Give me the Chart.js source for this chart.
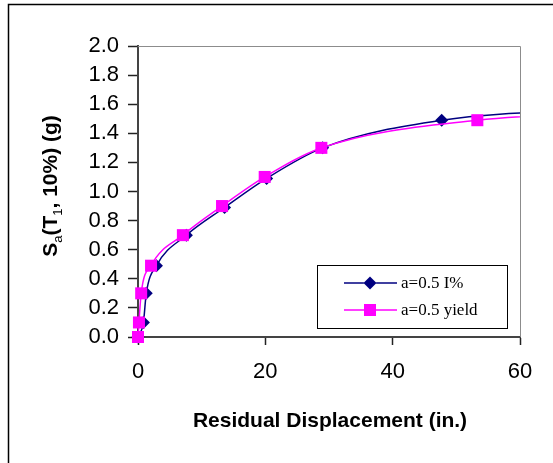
<!DOCTYPE html>
<html>
<head>
<meta charset="utf-8">
<script src="https://cdn.jsdelivr.net/npm/chart.js@4.4.1/dist/chart.umd.min.js"></script>
<style>
    html, body { margin: 0; padding: 0; background: #fff; }
    #wrap { width: 553px; height: 463px; position: relative; }
</style>
</head>
<body>
<div id="wrap"><canvas id="chart" width="553" height="463"></canvas></div>
<script>
// ── data ────────────────────────────────────────────────────
// a=0.5 I%  (navy diamonds); last point lies past the axis end
const iPctX = [0, 0.85, 1.3, 2.9, 7.6, 13.6, 20.2, 29.0, 47.7, 75];
const iPctY = [0, 0.10, 0.30, 0.49, 0.70, 0.89, 1.09, 1.30, 1.49, 1.57];
// a=0.5 yield  (magenta squares)
const yieldX = [0, 0.15, 0.5, 2.05, 7.05, 13.2, 19.9, 28.8, 53.3, 75];
const yieldY = [0, 0.10, 0.30, 0.49, 0.70, 0.90, 1.10, 1.30, 1.49, 1.545];

const seriesLabels = ['a=0.5 I%', 'a=0.5 yield'];
const xTicks = [0, 20, 40, 60];
const yTicks = [0, 0.2, 0.4, 0.6, 0.8, 1.0, 1.2, 1.4, 1.6, 1.8, 2.0];

function pairs(xs, ys) {
    return xs.map(function (x, i) { return { x: x, y: ys[i] }; });
}

// ── custom drawing: frame, plot border, axis titles, legend ─
const decorPlugin = {
    id: 'decor',
    beforeDatasetsDraw: function (chart) {
        const ctx = chart.ctx, a = chart.chartArea;
        ctx.save();
        ctx.strokeStyle = '#8c8c8c';
        ctx.lineWidth = 1;
        ctx.beginPath();
        ctx.moveTo(a.left, a.top + 0.5);
        ctx.lineTo(a.right + 0.5, a.top + 0.5);
        ctx.lineTo(a.right + 0.5, a.bottom);
        ctx.stroke();
        ctx.restore();
    },
    afterDraw: function (chart) {
        const ctx = chart.ctx;
        ctx.save();

        // outer frame (only top/left edges fall inside the picture)
        ctx.strokeStyle = '#000';
        ctx.lineWidth = 1.5;
        ctx.strokeRect(8.5, 4.5, 700, 700);

        // x title
        ctx.fillStyle = '#000';
        ctx.font = "bold 21px 'Liberation Sans', Arial, sans-serif";
        ctx.textAlign = 'center';
        ctx.textBaseline = 'middle';
        ctx.fillText('Residual Displacement (in.)', 330, 421);

        // y title with subscripts
        const parts = [
            { t: 'S', sub: false }, { t: 'a', sub: true },
            { t: '(T', sub: false }, { t: '1', sub: true },
            { t: ', 10%) (g)', sub: false }
        ];
        const bigFont = "bold 21px 'Liberation Sans', Arial, sans-serif";
        const subFont = "13px 'Liberation Sans', Arial, sans-serif";
        let total = 0;
        parts.forEach(function (p) {
            ctx.font = p.sub ? subFont : bigFont;
            p.w = ctx.measureText(p.t).width;
            total += p.w;
        });
        ctx.translate(50, 186);
        ctx.rotate(-Math.PI / 2);
        ctx.textAlign = 'left';
        ctx.textBaseline = 'alphabetic';
        let cx = -total / 2;
        parts.forEach(function (p) {
            ctx.font = p.sub ? subFont : bigFont;
            ctx.fillText(p.t, cx, p.sub ? 12 : 7);
            cx += p.w;
        });
        ctx.restore();

        // legend box
        ctx.save();
        ctx.fillStyle = '#fff';
        ctx.fillRect(317, 265, 190, 63);
        ctx.strokeStyle = '#000';
        ctx.lineWidth = 1;
        ctx.strokeRect(317.5, 265.5, 190, 63);
        const rows = [283, 310];
        chart.data.datasets.forEach(function (ds, i) {
            const y = rows[i];
            ctx.strokeStyle = ds.borderColor;
            ctx.lineWidth = 1.5;
            ctx.beginPath();
            ctx.moveTo(344, y);
            ctx.lineTo(397, y);
            ctx.stroke();
            Chart.helpers.drawPoint(ctx, {
                pointStyle: ds.pointStyle,
                radius: ds.pointRadius,
                borderWidth: 0
            }, 370, y);
            ctx.fillStyle = ds.pointBackgroundColor;
            ctx.fill();
            ctx.fillStyle = '#000';
            ctx.font = "17px 'Liberation Serif', 'Times New Roman', serif";
            ctx.textAlign = 'left';
            ctx.textBaseline = 'middle';
            ctx.fillText(ds.label, 401, y + 1);
        });
        ctx.restore();
    }
};

// ── chart ───────────────────────────────────────────────────
const ctx = document.getElementById('chart').getContext('2d');
new Chart(ctx, {
    type: 'line',
    data: {
        datasets: [{
            label: seriesLabels[0],
            data: pairs(iPctX, iPctY),
            borderColor: '#000080',
            backgroundColor: '#000080',
            borderWidth: 1.5,
            pointStyle: 'rectRot',
            pointRadius: 6.5,
            pointBackgroundColor: '#000080',
            pointBorderWidth: 0,
            cubicInterpolationMode: 'monotone',
            clip: { left: 12, top: 10, right: 0, bottom: 12 },
            order: 2
        }, {
            label: seriesLabels[1],
            data: pairs(yieldX, yieldY),
            borderColor: '#ff00ff',
            backgroundColor: '#ff00ff',
            borderWidth: 1.5,
            pointStyle: 'rect',
            pointRadius: 8.5,
            pointBackgroundColor: '#ff00ff',
            pointBorderWidth: 0,
            cubicInterpolationMode: 'monotone',
            clip: { left: 12, top: 10, right: 0, bottom: 12 },
            order: 1
        }]
    },
    options: {
        responsive: false,
        animation: false,
        events: [],
        layout: { padding: { left: 0, top: 46, right: 33, bottom: 0 } },
        plugins: {
            legend: { display: false },
            tooltip: { enabled: false }
        },
        scales: {
            x: {
                type: 'linear',
                min: xTicks[0],
                max: xTicks[xTicks.length - 1],
                afterFit: function (s) { s.height = 126; },
                afterBuildTicks: function (s) {
                    s.ticks = xTicks.map(function (v) { return { value: v }; });
                },
                ticks: {
                    color: '#000',
                    padding: 14,
                    autoSkip: false,
                    maxRotation: 0,
                    font: { family: "'Liberation Sans', Arial, sans-serif", size: 22 },
                    callback: function (v) { return String(v); }
                },
                grid: {
                    drawOnChartArea: false,
                    drawTicks: true,
                    tickLength: 8,
                    tickColor: '#222',
                    tickWidth: 1.5
                },
                border: { display: true, color: '#444', width: 2 }
            },
            y: {
                type: 'linear',
                min: yTicks[0],
                max: yTicks[yTicks.length - 1],
                afterFit: function (s) { s.width = 138; },
                afterBuildTicks: function (s) {
                    s.ticks = yTicks.map(function (v) { return { value: v }; });
                },
                ticks: {
                    color: '#000',
                    padding: 9,
                    autoSkip: false,
                    font: { family: "'Liberation Sans', Arial, sans-serif", size: 22 },
                    callback: function (v) { return Number(v).toFixed(1); }
                },
                grid: {
                    drawOnChartArea: false,
                    drawTicks: true,
                    tickLength: 10,
                    tickColor: '#222',
                    tickWidth: 1.5
                },
                border: { display: true, color: '#444', width: 2 }
            }
        }
    },
    plugins: [decorPlugin]
});
</script>
</body>
</html>
